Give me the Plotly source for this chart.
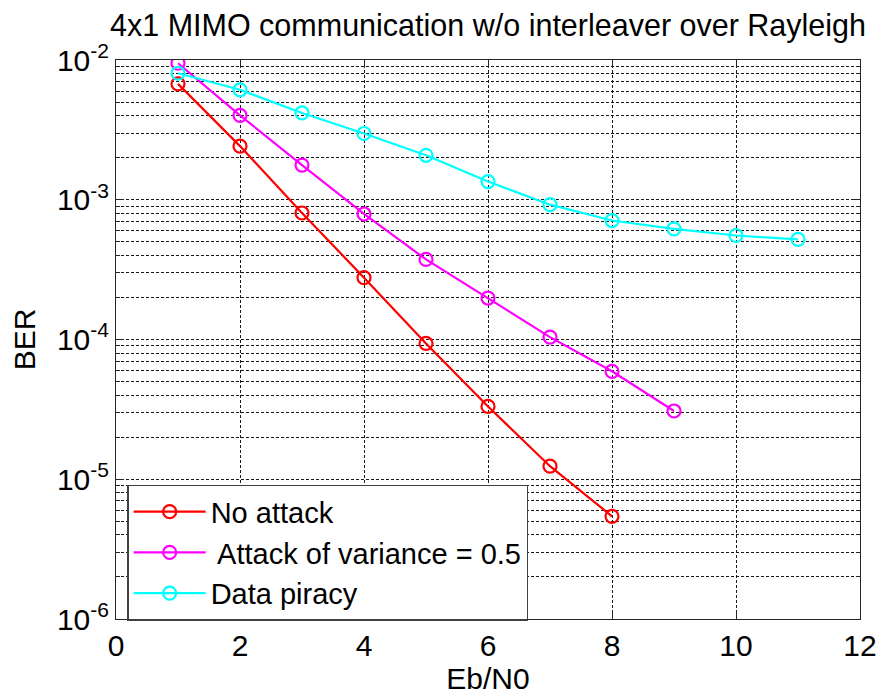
import plotly.graph_objects as go

# Eb/N0 points (dB)
ebn0_no_attack = [1, 2, 3, 4, 5, 6, 7, 8]
ebn0_variance = [1, 2, 3, 4, 5, 6, 7, 8, 9]
ebn0_piracy = [1, 2, 3, 4, 5, 6, 7, 8, 9, 10, 11]

# Bit error rates
ber_no_attack = [6.75e-3, 2.42e-3, 8.04e-4, 2.77e-4, 9.37e-5, 3.32e-5, 1.24e-5, 5.43e-6]
ber_variance = [9.48e-3, 4.02e-3, 1.77e-3, 7.91e-4, 3.74e-4, 1.98e-4, 1.04e-4, 5.92e-5, 3.08e-5]
ber_piracy = [8.04e-3, 6.12e-3, 4.18e-3, 2.98e-3, 2.08e-3, 1.35e-3, 9.22e-4, 7.10e-4, 6.19e-4, 5.55e-4, 5.20e-4]

series_names = ["No attack", " Attack of variance = 0.5", "Data piracy"]
series_colors = ["#FF0000", "#FF00FF", "#00FFFF"]

x_ticks = [0, 2, 4, 6, 8, 10, 12]
y_major = [1e-6, 1e-5, 1e-4, 1e-3, 1e-2]
y_major_text = ["10<sup>-6</sup>", "10<sup>-5</sup>", "10<sup>-4</sup>",
                "10<sup>-3</sup>", "10<sup>-2</sup>"]
y_minor = [m * d for d in [1e-6, 1e-5, 1e-4, 1e-3] for m in range(2, 10)]

FONT = "Liberation Sans, Arial, sans-serif"
GRID_DASH = "3px,2px"
TXT = 30

fig = go.Figure()
for xs, ys, name, color in zip(
    [ebn0_no_attack, ebn0_variance, ebn0_piracy],
    [ber_no_attack, ber_variance, ber_piracy],
    series_names, series_colors,
):
    fig.add_trace(go.Scatter(
        x=xs, y=ys, name=name, mode="lines+markers",
        line=dict(color=color, width=2.2),
        marker=dict(symbol="circle-open", size=13, color=color,
                    line=dict(width=2.2, color=color)),
    ))

fig.update_layout(
    width=889, height=698,
    paper_bgcolor="white", plot_bgcolor="white",
    margin=dict(l=116, r=21, t=60, b=75),
    font=dict(family=FONT, size=TXT, color="#000000"),
    title=dict(text="4x1 MIMO communication w/o interleaver over Rayleigh",
               x=0.5, xref="paper", xanchor="center",
               y=0.964, yref="container", yanchor="middle",
               font=dict(family=FONT, size=30.5, color="#000000")),
    showlegend=True,
    legend=dict(x=0.015, y=0.24, xanchor="left", yanchor="top",
                bgcolor="white", bordercolor="#404040", borderwidth=1.5,
                font=dict(family=FONT, size=29, color="#000000"),
                itemwidth=72, tracegroupgap=0),
)

fig.update_xaxes(
    range=[0, 12], tickmode="array", tickvals=x_ticks,
    ticks="inside", ticklen=8, tickcolor="#262626", mirror="ticks",
    showline=True, linecolor="#262626", linewidth=1,
    showgrid=True, gridcolor="#1a1a1a", gridwidth=1, griddash=GRID_DASH,
    zeroline=False,
    tickfont=dict(family=FONT, size=TXT, color="#000000"),
    title=dict(text="Eb/N0", font=dict(family=FONT, size=TXT, color="#000000"), standoff=3),
)

fig.update_yaxes(
    type="log", range=[-6, -2],
    tickmode="array", tickvals=y_major, ticktext=y_major_text,
    ticks="inside", ticklen=8, tickcolor="#262626", mirror="ticks",
    showline=True, linecolor="#262626", linewidth=1,
    showgrid=True, gridcolor="#1a1a1a", gridwidth=1, griddash=GRID_DASH,
    zeroline=False,
    tickfont=dict(family=FONT, size=TXT, color="#000000"),
    title=dict(text="BER", font=dict(family=FONT, size=TXT, color="#000000"), standoff=12),
    minor=dict(tickmode="array", tickvals=y_minor, ticks="inside", ticklen=4,
               tickcolor="#262626", showgrid=True, gridcolor="#1a1a1a",
               gridwidth=1, griddash=GRID_DASH),
)

fig.write_html("out.html")
